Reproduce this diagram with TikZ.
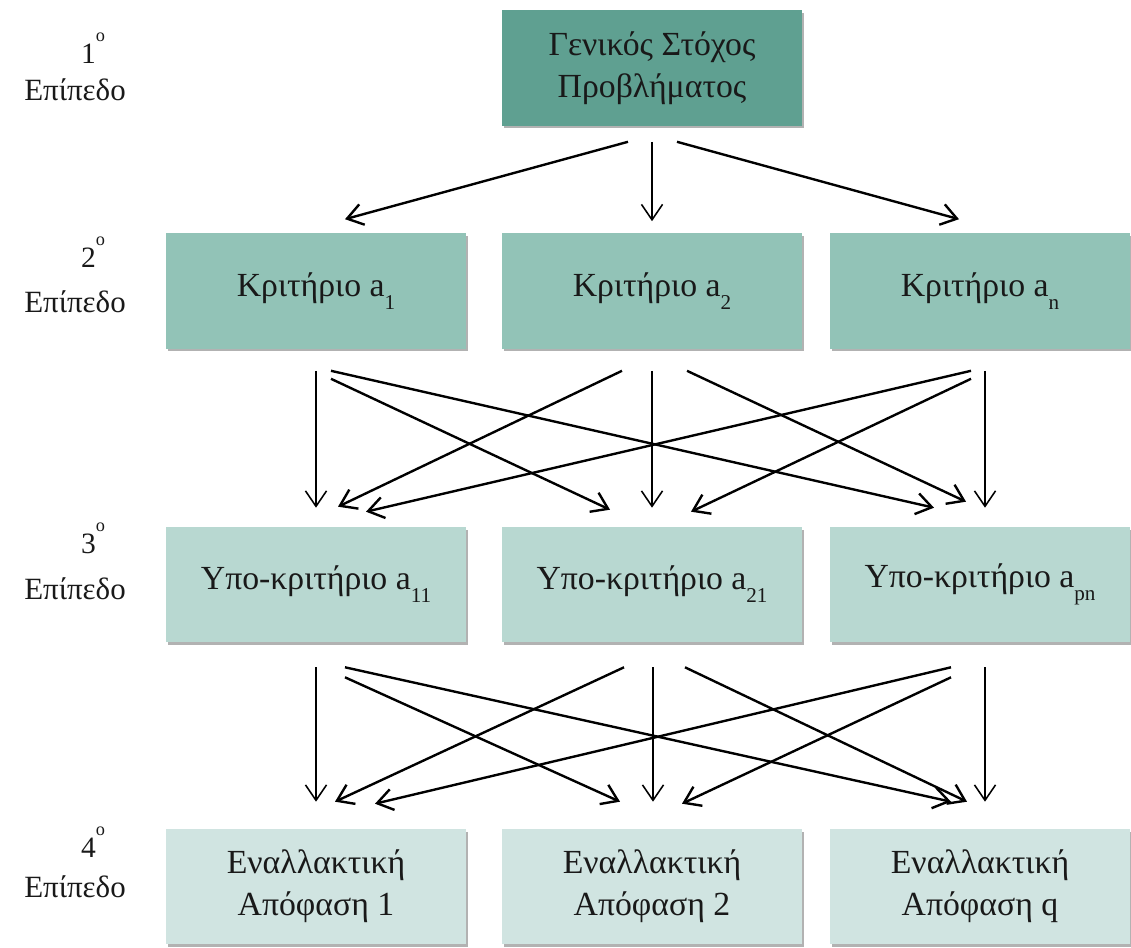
\documentclass[tikz,border=0pt]{standalone}
\usepackage{fontspec}
\setmainfont{Liberation Serif}
\usetikzlibrary{arrows.meta,shadows}

\definecolor{goalfill}{RGB}{95,160,145}
\definecolor{critfill}{RGB}{146,195,183}
\definecolor{subfill}{RGB}{184,216,209}
\definecolor{altfill}{RGB}{208,228,225}

\newcommand{\lowidx}[1]{\raisebox{-0.38em}{\fontsize{15}{15}\selectfont #1}}
\newcommand{\lvlnum}[1]{#1\raisebox{0.72em}{\fontsize{13}{13}\selectfont o}}

\tikzset{
  box/.style={rectangle, minimum width=7.5cm, minimum height=2.875cm, align=center,
    font=\fontsize{24}{30}\selectfont, text=black!90,
    drop shadow={shadow xshift=1.2pt, shadow yshift=-2pt, fill=black, opacity=0.3}},
  level/.style={anchor=base, inner sep=0pt, font=\fontsize{22}{26}\selectfont, text=black!90},
  levelnum/.style={anchor=base, inner sep=0pt, font=\fontsize{21}{21}\selectfont, text=black!90},
  arr/.style={->, line width=1.7pt},
  varr/.style={->, line width=1.1pt}
}

\begin{document}
\begin{tikzpicture}[x=0.025cm, y=-0.025cm, >={Straight Barb[length=11pt, width=15pt]}]
  \useasboundingbox (0,0) rectangle (1131,947);

  % levels
  \node (num1) [levelnum] at (93,63) {\lvlnum{1}};
  \node (lvl1) [level] at (75,100) {Επίπεδο};
  \node (num2) [levelnum] at (93,267) {\lvlnum{2}};
  \node (lvl2) [level] at (75,312) {Επίπεδο};
  \node (num3) [levelnum] at (93,553) {\lvlnum{3}};
  \node (lvl3) [level] at (75,599) {Επίπεδο};
  \node (num4) [levelnum] at (93,857) {\lvlnum{4}};
  \node (lvl4) [level] at (75,897) {Επίπεδο};

  % boxes
  \node (goal) [box, fill=goalfill] at (652,68) {Γενικός Στόχος\\Προβλήματος};

  \node (crit1) [box, fill=critfill] at (316,291) {Κριτήριο a\lowidx{1}};
  \node (crit2) [box, fill=critfill] at (652,291) {Κριτήριο a\lowidx{2}};
  \node (crit3) [box, fill=critfill] at (980,291) {Κριτήριο a\lowidx{n}};

  \node (sub1) [box, fill=subfill] at (316,584.5) {Υπο-κριτήριο a\lowidx{11}};
  \node (sub2) [box, fill=subfill] at (652,584.5) {Υπο-κριτήριο a\lowidx{21}};
  \node (sub3) [box, fill=subfill] at (980,584.5) {Υπο-κριτήριο a\lowidx{pn}};

  \node (alt1) [box, fill=altfill] at (316,886.5) {Εναλλακτική\\Απόφαση 1};
  \node (alt2) [box, fill=altfill] at (652,886.5) {Εναλλακτική\\Απόφαση 2};
  \node (alt3) [box, fill=altfill] at (980,886.5) {Εναλλακτική\\Απόφαση q};

  % goal to criteria
  \draw[arr] ([shift={(-24,16)}]goal.south) -- ([shift={(29,-14)}]crit1.north);
  \draw[varr] ([shift={(0,16)}]goal.south) -- ([shift={(0,-12)}]crit2.north);
  \draw[arr] ([shift={(25,16)}]goal.south) -- ([shift={(-21,-14)}]crit3.north);

  % criteria to sub-criteria
  \draw[varr] ([shift={(0,22)}]crit1.south) -- ([shift={(0,-19)}]sub1.north);
  \draw[arr] ([shift={(15,30)}]crit1.south) -- ([shift={(-42,-17)}]sub2.north);
  \draw[arr] ([shift={(15,22)}]crit1.south) -- ([shift={(-46,-19)}]sub3.north);
  \draw[arr] ([shift={(-30,22)}]crit2.south) -- ([shift={(22,-20)}]sub1.north);
  \draw[varr] ([shift={(0,22)}]crit2.south) -- ([shift={(0,-19)}]sub2.north);
  \draw[arr] ([shift={(35,22)}]crit2.south) -- ([shift={(-14,-25)}]sub3.north);
  \draw[arr] ([shift={(-9,22)}]crit3.south) -- ([shift={(50,-15)}]sub1.north);
  \draw[arr] ([shift={(-9,30)}]crit3.south) -- ([shift={(39,-15)}]sub2.north);
  \draw[varr] ([shift={(5,22)}]crit3.south) -- ([shift={(5,-19)}]sub3.north);

  % sub-criteria to alternatives
  \draw[varr] ([shift={(0,25)}]sub1.south) -- ([shift={(0,-27)}]alt1.north);
  \draw[arr] ([shift={(29,35)}]sub1.south) -- ([shift={(-32,-27)}]alt2.north);
  \draw[arr] ([shift={(29,25)}]sub1.south) -- ([shift={(-29,-27)}]alt3.north);
  \draw[arr] ([shift={(-28,25)}]sub2.south) -- ([shift={(19,-27)}]alt1.north);
  \draw[varr] ([shift={(1,25)}]sub2.south) -- ([shift={(1,-27)}]alt2.north);
  \draw[arr] ([shift={(33,25)}]sub2.south) -- ([shift={(-13,-27)}]alt3.north);
  \draw[arr] ([shift={(-29,25)}]sub3.south) -- ([shift={(59,-25)}]alt1.north);
  \draw[arr] ([shift={(-29,35)}]sub3.south) -- ([shift={(30,-25)}]alt2.north);
  \draw[varr] ([shift={(5,25)}]sub3.south) -- ([shift={(5,-27)}]alt3.north);
\end{tikzpicture}
\end{document}
